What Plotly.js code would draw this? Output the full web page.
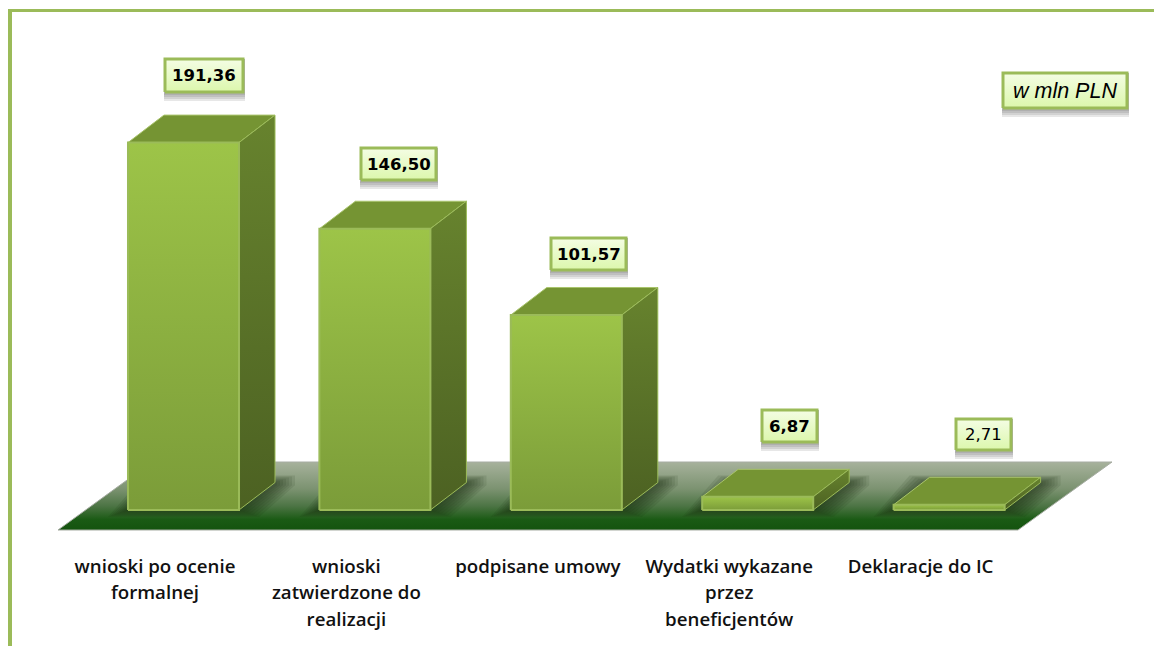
<!DOCTYPE html>
<html><head><meta charset="utf-8">
<script src="https://cdn.plot.ly/plotly-3.0.1.min.js"></script>
<style>html,body{margin:0;padding:0;background:#fff}#c{width:1154px;height:646px}</style></head>
<body><div id="c"></div>
<script>
// ---- data ----
const categories = ["wnioski po ocenie<br>formalnej","wnioski<br>zatwierdzone do<br>realizacji","podpisane umowy","Wydatki wykazane<br>przez<br>beneficjentów","Deklaracje do IC"];
const values = [191.36,146.50,101.57,6.87,2.71];
const valueLabels = ["191,36","146,50","101,57","6,87","2,71"];
const labelWeights = [700,700,700,700,400];
const unitLabel = "w mln PLN";

// ---- axis calibration (figure is 1154x646, axis line level at pixel 538) ----
const W=1154,H=646,AX=538,X0=183.5,XSTEP=191.4,Y0=510,YSCALE=1.92;
const xD=p=>(p-X0)/XSTEP, yD=p=>(Y0-p)/YSCALE, pY=p=>(AX-p)/AX;
const xRange=[xD(0),xD(W)], yRange=[yD(AX),yD(0)];
const barW=0.58, depthX=36/XSTEP, depthY=27.5/YSCALE, labelShift=28.5/XSTEP;
const idx=values.map((_,i)=>i);

// ---- furniture positions in pixels ----
const floorPx=[[58,530],[1018,530],[1112,462],[152,462]];
const boxPx=[[165,243,59,92],[361,436,148,180],[551,626,238,270],[762,817,410,442],[956,1011,419,450]];
const unitPx=[1003,1127,73,108];

const traces=[];
function addFill(pts,opt){
  traces.push(Object.assign({type:'scatter',mode:'lines',x:[...pts.map(p=>p[0]),pts[0][0]],y:[...pts.map(p=>p[1]),pts[0][1]],fill:'toself',hoverinfo:'skip',showlegend:false,line:{width:0}},opt));
}
const grad=(stops)=>({type:'vertical',colorscale:stops});

// bars (base mark, gradient face is laid over it)
traces.push({type:'bar',x:idx,y:values,width:barW,marker:{color:'#8bae40'},hoverinfo:'skip',showlegend:false});

// floor
addFill(floorPx.map(p=>[xD(p[0]),yD(p[1])]),{
  fillgradient:grad([[0,'#14530e'],[0.15,'#1a5a14'],[0.35,'#4c7444'],[0.6,'#7b9270'],[1,'#a7b29c']]),
  line:{width:1,color:'#a6aca2'}});

// floor shadows: nested translucent footprints
const blur=[20,17,14,11,8,5,2];
idx.forEach(i=>{
  const l=i-barW/2,r=i+barW/2;
  blur.forEach(e=>{
    const ex=e/XSTEP, ey=e*0.35/YSCALE;
    addFill([[l-ex,-ey],[r+ex,-ey],[r+depthX+ex,depthY*0.9],[r+depthX+ex,depthY+ey],[l+depthX-ex,depthY+ey]],
      {fillcolor:'rgba(18,42,10,0.10)'});
  });
});

// bar faces
idx.forEach(i=>{
  const v=values[i],l=i-barW/2,r=i+barW/2;
  addFill([[l,v],[r,v],[r+depthX,v+depthY],[l+depthX,v+depthY]],{fillcolor:'#759433',line:{width:1,color:'#a9c46c'}});
  addFill([[r,0],[r+depthX,depthY],[r+depthX,v+depthY],[r,v]],{
    fillgradient:grad([[0,'#4c6122'],[1,'#67832e']]),line:{width:1,color:'#9bbb59'}});
  addFill([[l,0],[r,0],[r,v],[l,v]],{
    fillgradient:grad([[0,'#7b9c39'],[1,'#9dc448']]),line:{width:2,color:'#9bbb59'}});
});

// label boxes
const annotations=[];
function addBox(b,txt,font){
  const [x0,x1,y0,y1]=b;
  [9,7,5,3].forEach(s=>addFill([[xD(x0-1),yD(y1+s)],[xD(x1+2),yD(y1+s)],[xD(x1+2),yD(y0)],[xD(x0-1),yD(y0)]],{fillcolor:'rgba(70,70,70,0.13)'}));
  addFill([[xD(x0),yD(y1)],[xD(x1),yD(y1)],[xD(x1),yD(y0)],[xD(x0),yD(y0)]],{
    fillgradient:grad([[0,'#dcf7ac'],[1,'#f4fde4']]),line:{width:3,color:'#9bbb59'}});
  annotations.push({x:xD((x0+x1)/2),y:yD((y0+y1)/2),text:txt,showarrow:false,xanchor:'center',yanchor:'middle',font});
}
valueLabels.forEach((t,i)=>addBox(boxPx[i],t,{family:'"DejaVu Sans",sans-serif',size:16.5,weight:labelWeights[i],color:'#000'}));
addBox(unitPx,unitLabel,{family:'"Liberation Sans",Arial,sans-serif',size:21.5,style:'italic',weight:400,color:'#000'});

const frame='#9bbb59';
const layout={
  width:W,height:H,margin:{l:0,r:0,t:0,b:H-AX},paper_bgcolor:'#fff',plot_bgcolor:'#fff',showlegend:false,
  xaxis:{range:xRange,fixedrange:true,showgrid:false,zeroline:false,showline:false,ticks:'',
    tickmode:'array',tickvals:idx.map(i=>i-labelShift),ticktext:categories,tickangle:0,ticklabelstandoff:15,
    automargin:false,tickfont:{family:'"Open Sans",sans-serif',size:18.7,weight:600,color:'#111'}},
  yaxis:{range:yRange,fixedrange:true,showgrid:false,zeroline:false,showline:false,showticklabels:false,ticks:''},
  shapes:[
    {type:'line',xref:'paper',yref:'paper',x0:9.5/W,x1:1,y0:pY(10.5),y1:pY(10.5),line:{color:frame,width:3}},
    {type:'line',xref:'paper',yref:'paper',x0:10/W,x1:10/W,y0:pY(9),y1:pY(H),line:{color:frame,width:4}}
  ],
  annotations
};
const gd=document.getElementById('c');
Plotly.newPlot(gd,traces,layout,{displayModeBar:false,staticPlot:true}).then(()=>{
  // reference line pitch is slightly wider than Plotly's fixed 1.3em
  gd.querySelectorAll('.xtick text tspan.line').forEach(t=>{
    const d=parseFloat(t.getAttribute('dy')||'0');
    if(d>0) t.setAttribute('dy',(d*1.09)+'em');
  });
});
</script></body></html>
